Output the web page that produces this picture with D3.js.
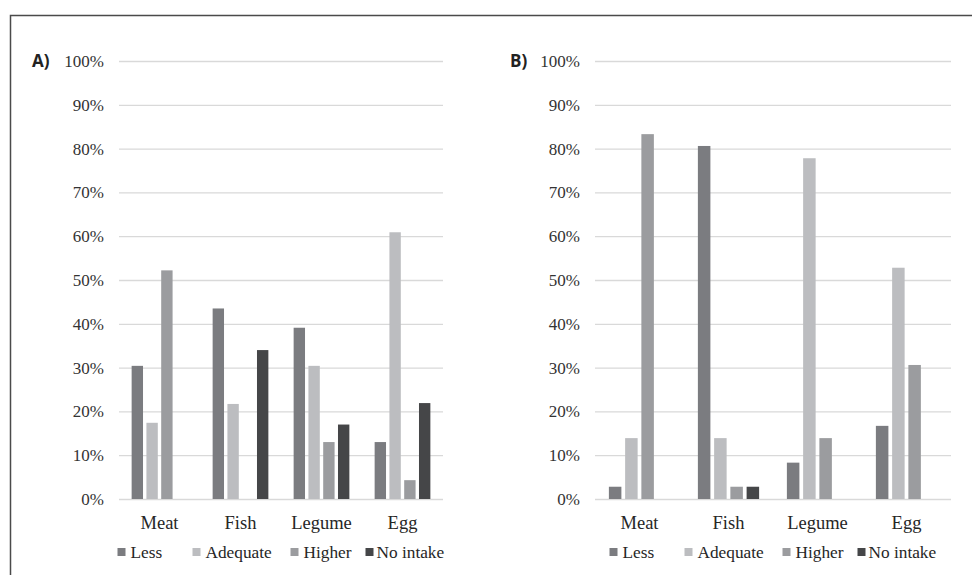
<!DOCTYPE html>
<html>
<head>
<meta charset="utf-8">
<script src="https://cdn.jsdelivr.net/npm/d3@7"></script>
<style>
  html, body { margin: 0; padding: 0; background: #fff; }
  svg { display: block; }
</style>
</head>
<body>
<svg id="chart" width="972" height="575"></svg>
<script>
// ---- data ----
const categories = ["Meat", "Fish", "Legume", "Egg"];
const seriesNames = ["Less", "Adequate", "Higher", "No intake"];
const yTicks = [0, 10, 20, 30, 40, 50, 60, 70, 80, 90, 100];
// Panel A values (%), one array per series, in category order
const aLess     = [30.4, 43.5, 39.1, 13.0];
const aAdequate = [17.4, 21.7, 30.4, 60.9];
const aHigher   = [52.2, 0, 13.0, 4.3];
const aNoIntake = [0, 34.0, 17.0, 21.9];
// Panel B values (%)
const bLess     = [2.8, 80.6, 8.3, 16.7];
const bAdequate = [13.9, 13.9, 77.8, 52.8];
const bHigher   = [83.3, 2.8, 13.9, 30.6];
const bNoIntake = [0, 2.8, 0, 0];

const colors = ["#7b7c80", "#bcbdc0", "#9b9c9f", "#454648"];

const svg = d3.select("#chart");

// outer frame (top and left edges)
svg.append("path")
  .attr("d", "M10.5,575 L10.5,15.5 L972,15.5")
  .attr("fill", "none").attr("stroke", "#4a4a4a").attr("stroke-width", 1.5);

function panel(opts) {
  const { label, labelX, x0r, series } = opts;
  const yTop = 61, yBot = 499;
  const g = svg.append("g");
  const y = d3.scaleLinear().domain([0, 100]).range([yBot, yTop]);
  const x0 = d3.scaleBand().domain(categories).range(x0r)
    .paddingInner(0.27).paddingOuter(0.135);
  const x1 = d3.scaleBand().domain(seriesNames).range([0, x0.bandwidth()])
    .paddingInner(0.23).paddingOuter(0.115);
  const color = d3.scaleOrdinal().domain(seriesNames).range(colors);

  // gridlines + y labels via axis
  const yAxis = d3.axisLeft(y).tickValues(yTicks).tickFormat(d => d + "%")
    .tickSize(-(x0r[1] - x0r[0])).tickPadding(15);
  const ya = g.append("g").attr("transform", `translate(${x0r[0]},0)`).call(yAxis);
  ya.select(".domain").remove();
  ya.selectAll(".tick line").attr("stroke", "#d9d9d9").attr("stroke-width", 1.3);
  ya.selectAll(".tick text")
    .attr("font-family", "'Liberation Serif', 'Times New Roman', serif")
    .attr("font-size", 17).attr("fill", "#333");

  // bars
  const rows = categories.map((c, i) => ({ cat: c, vals: series.map((s, j) => ({ key: seriesNames[j], v: s[i] })) }));
  const grp = g.selectAll(".grp").data(rows).join("g")
    .attr("transform", d => `translate(${x0(d.cat)},0)`);
  grp.selectAll("rect").data(d => d.vals.filter(v => v.v > 0)).join("rect")
    .attr("x", d => x1(d.key))
    .attr("width", x1.bandwidth())
    .attr("y", d => y(d.v))
    .attr("height", d => yBot - y(d.v))
    .attr("fill", d => color(d.key));

  // x axis labels
  const xAxis = d3.axisBottom(x0).tickSize(0).tickPadding(21);
  const xa = g.append("g").attr("transform", `translate(0,${yBot})`).call(xAxis);
  xa.select(".domain").remove();
  xa.selectAll(".tick text")
    .attr("font-family", "'Liberation Serif', 'Times New Roman', serif")
    .attr("font-size", 18.5).attr("fill", "#262626")
    .attr("dy", "0.5em");

  // panel label
  g.append("text").attr("x", labelX).attr("y", 61).attr("dy", "0.35em")
    .attr("font-family", "'Open Sans', 'Liberation Sans', sans-serif")
    .attr("font-weight", "bold").attr("font-size", 17).attr("fill", "#222")
    .text(label);

  // legend
  const offsets = [0, 75, 173, 248];
  const legW = 327;
  const lx = (x0r[0] + x0r[1]) / 2 - legW / 2;
  const leg = g.append("g").attr("transform", `translate(${lx},552)`);
  const items = leg.selectAll("g").data(seriesNames).join("g")
    .attr("transform", (d, i) => `translate(${offsets[i]},0)`);
  items.append("rect").attr("x", 0).attr("y", -4).attr("width", 8).attr("height", 8)
    .attr("fill", d => color(d));
  items.append("text").attr("x", (d, i) => i === 3 ? 11 : 13).attr("y", 0).attr("dy", "0.35em")
    .attr("font-family", "'Liberation Serif', 'Times New Roman', serif")
    .attr("font-size", 17.3).attr("fill", "#262626")
    .text(d => d);
}

panel({ label: "A)", labelX: 32, x0r: [119, 443], series: [aLess, aAdequate, aHigher, aNoIntake] });
panel({ label: "B)", labelX: 510, x0r: [595, 951], series: [bLess, bAdequate, bHigher, bNoIntake] });
</script>
</body>
</html>
